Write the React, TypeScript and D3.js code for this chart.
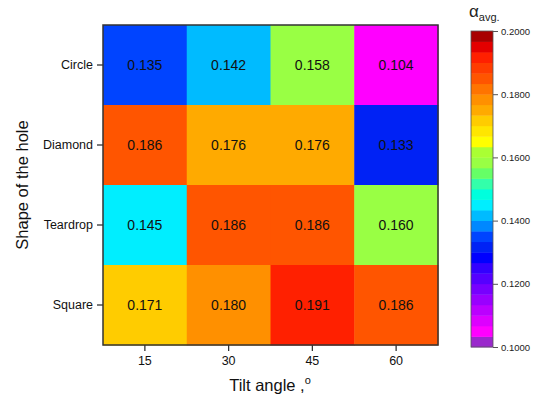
import React, { useEffect, useRef } from "react";
import * as d3 from "d3";

// data
const shapes = ["Circle", "Diamond", "Teardrop", "Square"];
const angles = ["15", "30", "45", "60"];
const circleVals = [0.135, 0.142, 0.158, 0.104];
const diamondVals = [0.186, 0.176, 0.176, 0.133];
const teardropVals = [0.145, 0.186, 0.186, 0.16];
const squareVals = [0.171, 0.18, 0.191, 0.186];
const colorTicks = [0.1, 0.12, 0.14, 0.16, 0.18, 0.2];

// 30 discrete bands of the colour bar, low to high
const bandColors = [
  "#9a28cc", "#ff00ff", "#dd00ff", "#bb00ff", "#9900ff", "#7700ff",
  "#5500ff", "#3300ff", "#0000ff", "#0022f5", "#0044ff", "#0088ff",
  "#00bbff", "#00eeff", "#00ffdd", "#33ffaa", "#66ff66", "#99ff44",
  "#aaff33", "#ffff00", "#ffe600", "#ffcc00", "#ffaa00", "#ff9000",
  "#ff7400", "#ff5500", "#ff3c00", "#ff2000", "#e40000", "#a80000",
];

const App = () => {
  const ref = useRef<SVGSVGElement>(null);

  useEffect(() => {
    const svg = d3.select(ref.current);
    svg.selectAll("*").remove();

    const font = "'Liberation Sans', Arial, sans-serif";
    const left = 103, top = 25, w = 335, h = 320;

    const rows = [circleVals, diamondVals, teardropVals, squareVals];
    const cells = rows.flatMap((vals, i) =>
      vals.map((v, j) => ({ shape: shapes[i], angle: angles[j], v }))
    );

    const x = d3.scaleBand().domain(angles).range([left, left + w]);
    const y = d3.scaleBand().domain(shapes).range([top, top + h]);
    const color = d3.scaleQuantize<string>().domain([0.1, 0.2]).range(bandColors);

    svg
      .selectAll("rect.cell")
      .data(cells)
      .enter()
      .append("rect")
      .attr("x", (d) => x(d.angle)!)
      .attr("y", (d) => y(d.shape)!)
      .attr("width", x.bandwidth() + 0.5)
      .attr("height", y.bandwidth() + 0.5)
      .attr("fill", (d) => color(d.v));

    svg
      .selectAll("text.val")
      .data(cells)
      .enter()
      .append("text")
      .attr("x", (d) => x(d.angle)! + x.bandwidth() / 2)
      .attr("y", (d) => y(d.shape)! + y.bandwidth() / 2)
      .attr("dy", "0.36em")
      .attr("text-anchor", "middle")
      .attr("font-family", font)
      .attr("font-size", 14)
      .attr("fill", "#111")
      .text((d) => d.v.toFixed(3));

    // frame
    svg
      .append("rect")
      .attr("x", left)
      .attr("y", top)
      .attr("width", w)
      .attr("height", h)
      .attr("fill", "none")
      .attr("stroke", "#333")
      .attr("stroke-width", 1.5);

    // axes
    const xAxis = svg
      .append("g")
      .attr("transform", `translate(0,${top + h})`)
      .call(d3.axisBottom(x).tickSize(6).tickPadding(5));
    const yAxis = svg
      .append("g")
      .attr("transform", `translate(${left},0)`)
      .call(d3.axisLeft(y).tickSize(6).tickPadding(4));
    [xAxis, yAxis].forEach((g) => {
      g.select(".domain").remove();
      g.selectAll("line").attr("stroke", "#333").attr("stroke-width", 1.3);
      g.selectAll("text")
        .attr("font-family", font)
        .attr("font-size", 12.5)
        .attr("fill", "#111");
    });

    svg
      .append("text")
      .attr("x", 270)
      .attr("y", 391)
      .attr("text-anchor", "middle")
      .attr("font-family", font)
      .attr("font-size", 16.5)
      .attr("fill", "#111")
      .text("Tilt angle ,")
      .append("tspan")
      .attr("dy", -7)
      .attr("font-size", 11)
      .text("o");

    svg
      .append("text")
      .attr("transform", `translate(28,${top + h / 2}) rotate(-90)`)
      .attr("text-anchor", "middle")
      .attr("font-family", font)
      .attr("font-size", 16.5)
      .attr("fill", "#111")
      .text("Shape of the hole");

    // colour bar
    const cbLeft = 471, cbW = 22, cbTop = 31, cbBottom = 347;
    const cy = d3.scaleLinear().domain([0.1, 0.2]).range([cbBottom, cbTop]);
    const step = 0.1 / bandColors.length;
    svg
      .selectAll("rect.band")
      .data(bandColors)
      .enter()
      .append("rect")
      .attr("x", cbLeft)
      .attr("y", (_, i) => cy(0.1 + (i + 1) * step))
      .attr("width", cbW)
      .attr("height", (_, i) => cy(0.1 + i * step) - cy(0.1 + (i + 1) * step) + 0.4)
      .attr("fill", (c) => c);
    svg
      .append("rect")
      .attr("x", cbLeft)
      .attr("y", cbTop)
      .attr("width", cbW)
      .attr("height", cbBottom - cbTop)
      .attr("fill", "none")
      .attr("stroke", "#555")
      .attr("stroke-width", 0.8);

    const cAxis = svg
      .append("g")
      .attr("transform", `translate(${cbLeft + cbW},0)`)
      .call(
        d3.axisRight(cy).tickValues(colorTicks).tickSize(5).tickPadding(3).tickFormat(d3.format(".4f"))
      );
    cAxis.select(".domain").remove();
    cAxis.selectAll("line").attr("stroke", "#555");
    cAxis
      .selectAll("text")
      .attr("font-family", font)
      .attr("font-size", 9.5)
      .attr("fill", "#222");

    const title = svg
      .append("text")
      .attr("x", 469)
      .attr("y", 17)
      .attr("font-family", font)
      .attr("font-size", 17)
      .attr("fill", "#222");
    title.append("tspan").text("α");
    title.append("tspan").attr("dy", 4).attr("font-size", 11).text("avg.");
  }, []);

  return <svg ref={ref} width={536} height={399} style={{ position: "absolute", left: 0, top: 0 }} />;
};

export default App;
